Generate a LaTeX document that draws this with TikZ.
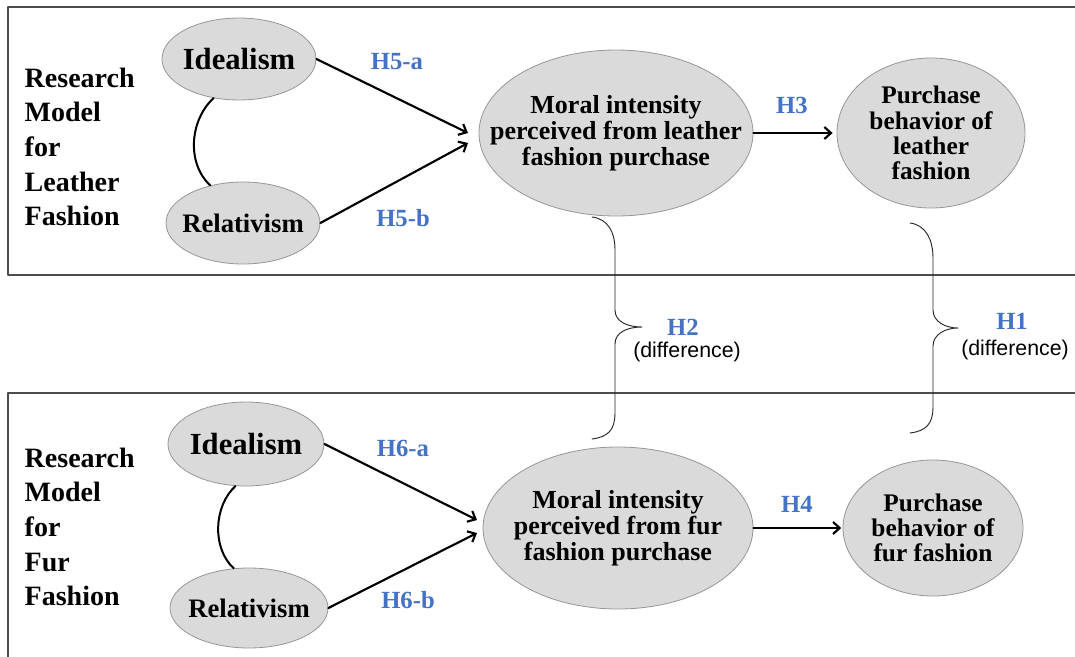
\documentclass[tikz,border=0pt]{standalone}
\usepackage{fontspec}
\setmainfont{Liberation Serif}
\newfontfamily\difffont{Liberation Sans}
\usetikzlibrary{shapes.geometric,arrows.meta}
\definecolor{hypblue}{RGB}{68,114,196}
\definecolor{ellfill}{RGB}{218,218,218}
\definecolor{ellline}{RGB}{150,150,150}

\begin{document}
\begin{tikzpicture}[x=0.75pt,y=-0.75pt,>={Straight Barb[length=5pt,width=9pt]},line join=round,line cap=round,
	latent/.style={ellipse,draw=ellline,fill=ellfill,line width=0.6pt,inner sep=0pt},
	vartext/.style={align=center,font=\fontsize{19.5}{19.5}\selectfont\bfseries},
	model/.style={anchor=west,align=left,font=\fontsize{21}{26}\selectfont\bfseries},
	hyp/.style={text=hypblue,font=\fontsize{18.5}{20}\selectfont\bfseries},
	diff/.style={font=\difffont\fontsize{16}{18}\selectfont},
	path/.style={->,line width=1.6pt},
	corr/.style={line width=1.5pt},
	frame/.style={draw=black!70,line width=1pt},
	diffbrace/.style={draw=black!85,line width=0.7pt}]
	\useasboundingbox (0,0) rectangle (1075,657);
	\clip (0,0) rectangle (1075,657);
	% the two model boxes
	\draw[frame] (8,7) rectangle (1085,275);
	\draw[frame] (8,393) rectangle (1085,667);
	% leather model
	\node[model] (lab1) at (20,147) {Research\\Model\\for\\Leather\\Fashion};
	\node[latent,minimum width=115.5pt,minimum height=61.5pt,label={[vartext,font=\fontsize{23}{26}\selectfont\bfseries]center:Idealism}] (ideal1) at (239,59) {};
	\node[latent,minimum width=115.5pt,minimum height=61.5pt,label={[vartext,font=\fontsize{20}{24}\selectfont\bfseries]center:Relativism}] (rel1) at (243,223) {};
	\node[latent,minimum width=205.5pt,minimum height=124.5pt,label={[vartext]center:{Moral intensity\\perceived from leather\\fashion purchase}}] (moral1) at (616,133) {};
	\node[latent,minimum width=141pt,minimum height=112.5pt,label={[vartext,font=\fontsize{19}{19}\selectfont\bfseries]center:{Purchase\\behavior of\\leather\\fashion}}] (buy1) at (931,133) {};
	\node[hyp] (h5a) at (397,62) {H5-a};
	\node[hyp] (h5b) at (403,218) {H5-b};
	\node[hyp] (h3) at (792,105) {H3};
	\coordinate (tip5a) at (468,133);
	\coordinate (tip5b) at (468,143);
	\draw[corr] (ideal1.237) .. controls +(-24,22) and +(-24,-22) .. (rel1.131);
	\draw[path] (ideal1.east) -- (tip5a);
	\draw[path] (rel1.east) -- (tip5b);
	\draw[path,shorten >=3pt] (moral1.east) -- (buy1.west);
	% fur model
	\node[model] (lab2) at (20,527) {Research\\Model\\for\\Fur\\Fashion};
	\node[latent,minimum width=117pt,minimum height=63pt,label={[vartext,font=\fontsize{23}{26}\selectfont\bfseries]center:Idealism}] (ideal2) at (246,444) {};
	\node[latent,minimum width=118.5pt,minimum height=60pt,label={[vartext,font=\fontsize{20}{24}\selectfont\bfseries]center:Relativism}] (rel2) at (249,608) {};
	\node[latent,minimum width=202.5pt,minimum height=121.5pt,label={[vartext]center:{Moral intensity\\perceived from fur\\fashion purchase}}] (moral2) at (618,528) {};
	\node[latent,minimum width=135pt,minimum height=102pt,label={[vartext,font=\fontsize{19}{19}\selectfont\bfseries]center:{Purchase\\behavior of\\fur fashion}}] (buy2) at (933,528) {};
	\node[hyp] (h6a) at (403,448) {H6-a};
	\node[hyp] (h6b) at (408,600) {H6-b};
	\node[hyp] (h4) at (797,504) {H4};
	\coordinate (tip6a) at (477,520);
	\coordinate (tip6b) at (477,533);
	\draw[corr] (ideal2.256) .. controls +(-22,20) and +(-22,-20) .. (rel2.111);
	\draw[path] (ideal2.east) -- (tip6a);
	\draw[path] (rel2.east) -- (tip6b);
	\draw[path,shorten >=1pt] (moral2.east) -- (buy2.west);
	% differences between the two models
	\draw[diffbrace] (592,217) .. controls (608,219) and (615,232) .. (615,250) -- (615,310)
		.. controls (615,322) and (628,327) .. (642,327) .. controls (628,327) and (615,332) .. (615,344)
		-- (615,413) .. controls (615,430) and (608,437) .. (592,439);
	\draw[diffbrace] (910,223) .. controls (926,225) and (933,240) .. (933,258) -- (933,310)
		.. controls (933,322) and (946,328) .. (958,328) .. controls (946,328) and (933,334) .. (933,346)
		-- (933,407) .. controls (933,424) and (926,431) .. (910,433);
	\node[hyp] (h2) at (683,327) {H2};
	\node[diff] (d2) at (687,352) {(difference)};
	\node[hyp] (h1) at (1012,321) {H1};
	\node[diff] (d1) at (1015,350) {(difference)};
\end{tikzpicture}
\end{document}
